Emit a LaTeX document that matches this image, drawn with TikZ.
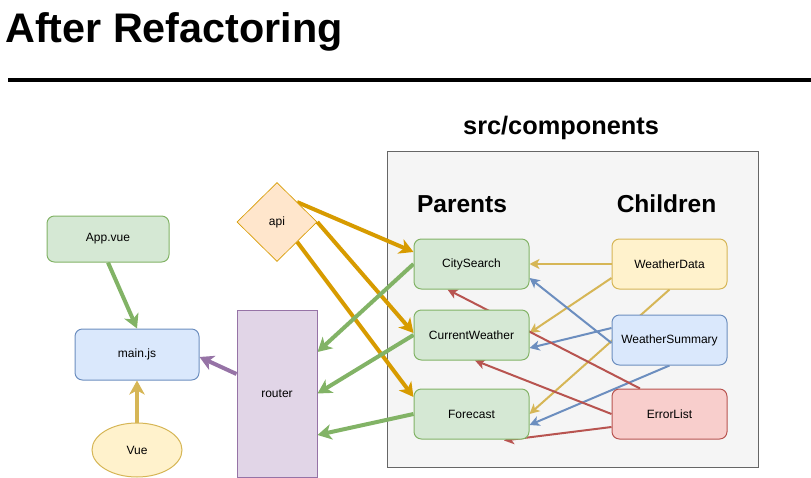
\documentclass[tikz,border=0pt]{standalone}
\usepackage{fontspec}
\setmainfont{Liberation Sans}
\usetikzlibrary{shapes.geometric,arrows.meta,calc}
\definecolor{gfill}{HTML}{D5E8D4}\definecolor{gline}{HTML}{82B366}
\definecolor{bfill}{HTML}{DAE8FC}\definecolor{bline}{HTML}{6C8EBF}
\definecolor{yfill}{HTML}{FFF2CC}\definecolor{yline}{HTML}{D6B656}
\definecolor{rfill}{HTML}{F8CECC}\definecolor{rline}{HTML}{B85450}
\definecolor{pfill}{HTML}{E1D5E7}\definecolor{pline}{HTML}{9673A6}
\definecolor{ofill}{HTML}{FFE6CC}\definecolor{oline}{HTML}{D79B00}
\definecolor{compfill}{HTML}{F5F5F5}\definecolor{compline}{HTML}{666666}
\pgfdeclarelayer{bg}\pgfdeclarelayer{edges}
\pgfsetlayers{bg,edges,main}
\tikzset{
  lbl/.style={font=\fontsize{9}{11}\selectfont},
  box/.style={draw, lbl, rounded corners=5.5pt, line width=0.75pt, inner sep=0pt,
    minimum width=86.25pt, minimum height=37.5pt},
  gbox/.style={box, fill=gfill, draw=gline},
  bbox/.style={box, fill=bfill, draw=bline},
  ybox/.style={box, fill=yfill, draw=yline},
  rbox/.style={box, fill=rfill, draw=rline},
  heading/.style={inner sep=0pt, anchor=base, font=\fontsize{18.4}{22}\selectfont\bfseries},
  thickarr/.style={line width=3pt, -{Stealth[length=10.5pt,width=11.5pt,inset=3pt]}},
  thinarr/.style={line width=1.5pt, -{Stealth[length=7.5pt,width=7.5pt,inset=2pt]}},
}
\begin{document}
\begin{tikzpicture}[x=0.75pt,y=-0.75pt]
\useasboundingbox (0,0) rectangle (811,478);
% title
\node[anchor=base west, inner sep=0pt, font=\fontsize{31}{36}\selectfont\bfseries] (title) at (5,43) {After Refactoring};
\coordinate (ruleL) at (8,80);
\coordinate (ruleR) at (811,80);
\draw[line width=3pt] (ruleL) -- (ruleR);
% components container
\begin{pgfonlayer}{bg}
\node[draw=compline, fill=compfill, line width=0.75pt, inner sep=0pt,
  minimum width=278.25pt, minimum height=237pt] (comp) at (572.5,309) {};
\end{pgfonlayer}
\node[heading, font=\fontsize{19}{23}\selectfont\bfseries] (srchead) at (561,135) {src/components};
\node[heading] (parents) at (462,212) {Parents};
\node[heading] (children) at (666.5,212) {Children};
% parents
\node[gbox] (city) at (471.5,264) {CitySearch};
\node[gbox] (current) at (471.5,335) {CurrentWeather};
\node[gbox] (forecast) at (471.5,414) {Forecast};
% children
\node[ybox] (wdata) at (669.5,264) {WeatherData};
\node[bbox] (wsum) at (669.5,340) {WeatherSummary};
\node[rbox] (errors) at (669.5,414) {ErrorList};
% left side
\node[gbox, minimum width=91.5pt, minimum height=34.5pt] (app) at (108,239) {App.vue};
\node[bbox, minimum width=93pt, minimum height=38.25pt] (main) at (137,354.5) {main.js};
\node[ellipse, draw=yline, fill=yfill, line width=0.75pt, lbl, inner sep=0pt,
  minimum width=67.5pt, minimum height=40.5pt] (vue) at (137,450) {Vue};
\node[draw=pline, fill=pfill, line width=0.75pt, lbl, inner sep=0pt,
  minimum width=60pt, minimum height=125.25pt] (router) at (277,393.5) {router};
\node[diamond, draw=oline, fill=ofill, line width=0.5pt, lbl, inner sep=0pt,
  minimum width=60pt, minimum height=59.25pt] (api) at (277,222) {api};
\coordinate (fcEnd) at ($(forecast.south)+(32.5,1)$);
% edges
\begin{pgfonlayer}{edges}
\draw[thickarr, gline] (app.south) -- (main.north);
\draw[thickarr, yline] (vue.north) -- (main.south);
\draw[thickarr, pline] ($(router.west)+(0,-19.5)$) -- ($(main.east)+(0,2.5)$);
\draw[thickarr, oline] (api.north east) -- ($(city.west)+(0,-12)$);
\draw[thickarr, oline] (api.east) -- ($(current.west)+(0,-2)$);
\draw[thickarr, oline] (api.south east) -- ($(forecast.west)+(0,-17)$);
\draw[thickarr, gline] (city.west) -- ($(router.east)+(0,-41.5)$);
\draw[thickarr, gline] (current.west) -- (router.east);
\draw[thickarr, gline] (forecast.west) -- ($(router.east)+(0,41.5)$);
% children to parents
\draw[thinarr, yline] (wdata.west) -- (city.east);
\draw[thinarr, yline] ($(wdata.west)+(0,14)$) -- ($(current.east)+(0,-2)$);
\draw[thinarr, yline] (wdata.south) -- (forecast.east);
\draw[thinarr, bline] ($(wsum.west)+(0,3)$) -- ($(city.east)+(0,14)$);
\draw[thinarr, bline] ($(wsum.west)+(0,-12)$) -- ($(current.east)+(0,13)$);
\draw[thinarr, bline] (wsum.south) -- ($(forecast.east)+(0,11)$);
\draw[thinarr, rline] ($(errors.north)+(-29.5,0)$) -- ($(city.south)+(-24,0)$);
\draw[thinarr, rline] (errors.west) -- ($(current.south)+(3.5,0)$);
\draw[thinarr, rline] ($(errors.west)+(0,13)$) -- (fcEnd);
\end{pgfonlayer}
\end{tikzpicture}
\end{document}
